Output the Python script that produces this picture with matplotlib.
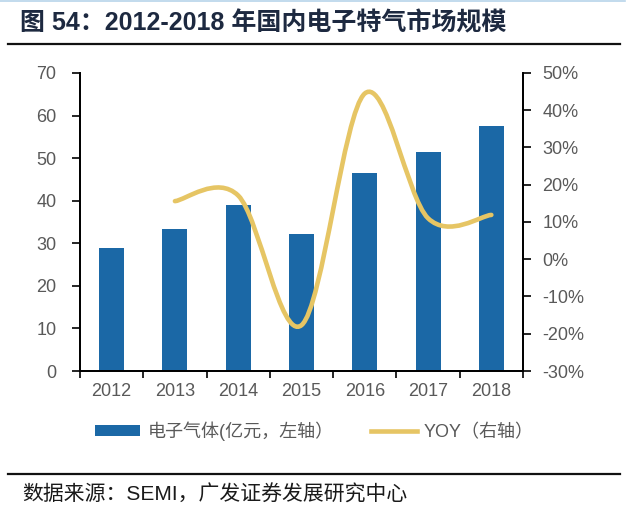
import numpy as np
import matplotlib
matplotlib.use('Agg')
import matplotlib.pyplot as plt
from matplotlib.path import Path
from matplotlib.patches import PathPatch, Patch
from matplotlib.lines import Line2D
from matplotlib.ticker import FuncFormatter, FixedLocator

# ---------------- data ----------------
years = ['2012', '2013', '2014', '2015', '2016', '2017', '2018']
gas_value = [28.8, 33.3, 39.0, 32.1, 46.4, 51.5, 57.6]          # 亿元
yoy_years = ['2013', '2014', '2015', '2016', '2017', '2018']
yoy_pct = [15.6, 17.1, -17.7, 44.5, 11.0, 11.9]                 # %
left_ticks = [0, 10, 20, 30, 40, 50, 60, 70]
right_ticks = [-30, -20, -10, 0, 10, 20, 30, 40, 50]

title = '图 54：2012-2018 年国内电子特气市场规模'
source = '数据来源：SEMI，广发证券发展研究中心'
bar_label = '电子气体(亿元，左轴）'
line_label = 'YOY（右轴）'

BAR_C = '#1b68a6'
LINE_C = '#e6c564'
TICK_C = '#595959'
FAM = ['Liberation Sans', 'Noto Sans CJK SC', 'DejaVu Sans']
plt.rcParams['font.family'] = FAM

W, H = 640, 514
fig = plt.figure(figsize=(W / 100, H / 100), dpi=100)
fig.patch.set_facecolor('white')

def fx(px):
    return px / W

def fy(py):
    return 1 - py / H

ax = fig.add_axes([fx(80), fy(371), (523 - 80) / W, (371 - 73) / H])
ax2 = ax.twinx()

x = np.arange(len(years))
ax.bar(x, gas_value, width=0.395, color=BAR_C, zorder=2)
ax.set_xlim(-0.5, len(years) - 0.5)
ax.set_ylim(0, 70)
ax.yaxis.set_major_locator(FixedLocator(left_ticks))

ax.set_xticks(x)
ax.set_xticklabels(years)
ax.set_xticks(np.arange(-0.5, len(years), 1.0), minor=True)
ax.tick_params(axis='x', which='major', length=0, pad=9, labelsize=13, labelcolor=TICK_C)
ax.tick_params(axis='x', which='minor', length=5, width=1.2, direction='out', color='black')
ax.tick_params(axis='y', length=6, width=1.2, direction='out', pad=11, labelsize=13,
               labelcolor=TICK_C, color='black')

for a in (ax, ax2):
    a.spines['top'].set_visible(False)
    for s in ('left', 'right', 'bottom'):
        a.spines[s].set_linewidth(1.3)
        a.spines[s].set_color('black')

# smoothed YOY line (Catmull-Rom style bezier through the data points)
yx = np.array([years.index(y) for y in yoy_years], dtype=float)
yy = np.array(yoy_pct, dtype=float)
n = len(yx)
verts = [(yx[0], yy[0])]
codes = [Path.MOVETO]
for i in range(n - 1):
    p0 = np.array([yx[max(i - 1, 0)], yy[max(i - 1, 0)]])
    p1 = np.array([yx[i], yy[i]])
    p2 = np.array([yx[i + 1], yy[i + 1]])
    p3 = np.array([yx[min(i + 2, n - 1)], yy[min(i + 2, n - 1)]])
    c1 = p1 + (p2 - p0) / 6.0
    c2 = p2 - (p3 - p1) / 6.0
    verts += [tuple(c1), tuple(c2), tuple(p2)]
    codes += [Path.CURVE4] * 3
ax2.add_patch(PathPatch(Path(verts, codes), fill=False, edgecolor=LINE_C,
                        lw=3.3, capstyle='round', zorder=3))

ax2.set_ylim(-30, 50)
ax2.yaxis.set_major_locator(FixedLocator(right_ticks))
ax2.yaxis.set_major_formatter(FuncFormatter(lambda v, p: f'{int(round(v))}%'))
ax2.tick_params(axis='y', length=6, width=1.2, direction='out', pad=8, labelsize=13,
                labelcolor=TICK_C, color='black')

# legend
handles = [Patch(facecolor=BAR_C, edgecolor='none'),
           Line2D([0], [0], color=LINE_C, lw=3.3)]
leg = fig.legend(handles, [bar_label, line_label], loc='center left',
                 bbox_to_anchor=(fx(95), fy(431)), ncol=2, frameon=False,
                 fontsize=13, handlelength=2.5, handleheight=0.55,
                 handletextpad=0.4, columnspacing=2.1, borderpad=0, borderaxespad=0)
for t in leg.get_texts():
    t.set_color(TICK_C)

# title, rules, source
fig.text(fx(20), fy(23), title, fontsize=18, fontweight='bold', color='#1d2940',
         va='center', ha='left', family=FAM)
fig.add_artist(Line2D([fx(8), fx(620)], [fy(44), fy(44)], color='#111111', lw=1.6))
fig.add_artist(Line2D([fx(0), fx(625)], [fy(1), fy(1)], color='#b8d4ea', lw=1.2))
fig.add_artist(Line2D([fx(8), fx(620)], [fy(474), fy(474)], color='#111111', lw=1.6))
fig.text(fx(22), fy(495), source, fontsize=15, color='#1a1a1a', va='center', ha='left',
         family=FAM)

fig.savefig('out.png', dpi=100, facecolor='white')
